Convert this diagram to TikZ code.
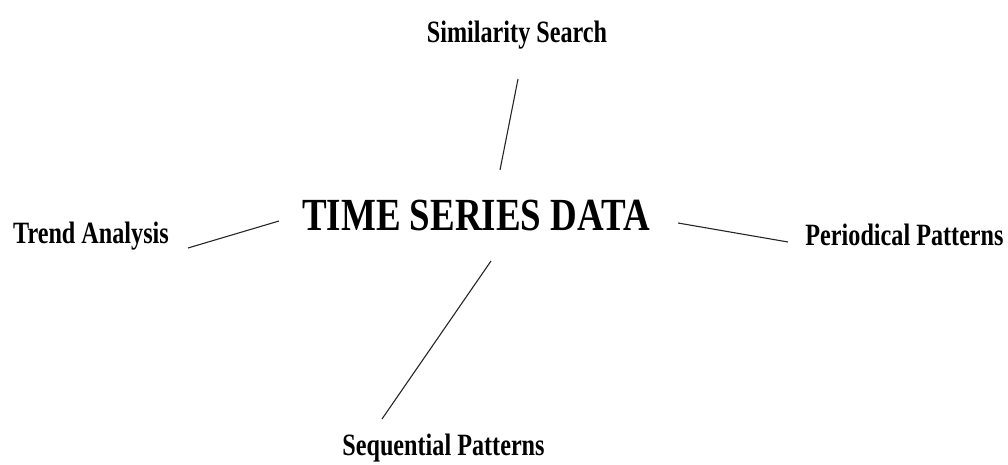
\documentclass[tikz,border=0pt]{standalone}
\usepackage{fontspec}
\setmainfont{Liberation Serif}
\newcommand{\narrowtext}[2][0.78]{\scalebox{#1}[1]{#2}}
\begin{document}
\begin{tikzpicture}[x=1pt,y=-1pt,
  topic/.style={inner sep=0pt, anchor=base, font=\fontsize{31}{31}\selectfont\bfseries},
  hub/.style={inner sep=0pt, anchor=base, font=\fontsize{46}{46}\selectfont\bfseries},
  spoke/.style={line width=1.1pt, black!85}]
  \useasboundingbox (0,0) rectangle (1008,465);

  % central topic and its four branches
  \node[hub]   (tsd) at (476,230)   {\narrowtext[0.803]{TIME SERIES DATA}};
  \node[topic] (ss)  at (517,43)    {\narrowtext{Similarity Search}};
  \node[topic] (ta)  at (91,243)    {\narrowtext{Trend Analysis}};
  \node[topic] (pp)  at (904.5,245) {\narrowtext{Periodical Patterns}};
  \node[topic] (sp)  at (443.5,455) {\narrowtext{Sequential Patterns}};

  % free ends of the connecting strokes
  \coordinate (ss-end)  at (518,79);
  \coordinate (tsd-up)  at (500,170);
  \coordinate (ta-end)  at (188,248);
  \coordinate (tsd-lt)  at (279,221);
  \coordinate (tsd-rt)  at (678,223);
  \coordinate (pp-end)  at (788,242);
  \coordinate (tsd-dn)  at (491,261);
  \coordinate (sp-end)  at (382,419);

  \draw[spoke] (ss-end) -- (tsd-up);
  \draw[spoke] (ta-end) -- (tsd-lt);
  \draw[spoke] (tsd-rt) -- (pp-end);
  \draw[spoke] (tsd-dn) -- (sp-end);
\end{tikzpicture}
\end{document}
